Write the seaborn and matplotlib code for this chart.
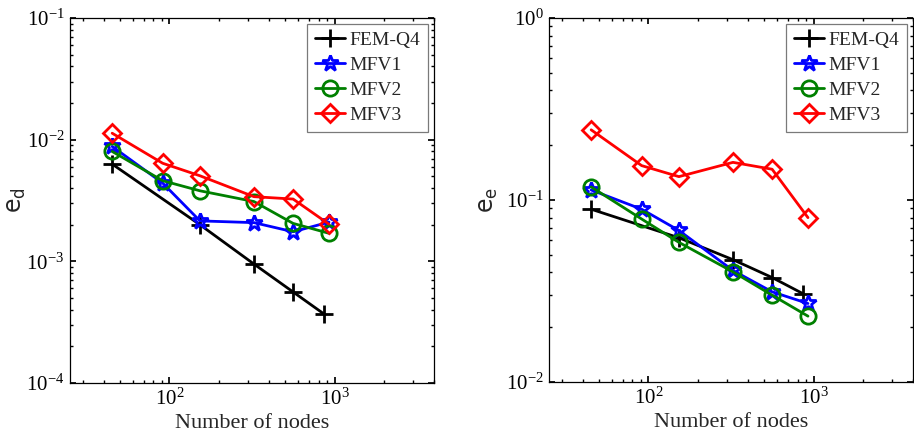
import numpy as np
import pandas as pd
import matplotlib
matplotlib.use("Agg")
import matplotlib.pyplot as plt
import seaborn as sns

# Node counts of the meshes
nodes_fem = [45, 153, 325, 561, 861]
nodes_mfv = [45, 91, 153, 325, 561, 925]

# Displacement error norm e_d
ed_fem = [6.3e-3, 2.0e-3, 9.5e-4, 5.6e-4, 3.7e-4]
ed_mfv1 = [8.8e-3, 4.4e-3, 2.15e-3, 2.08e-3, 1.75e-3, 2.1e-3]
ed_mfv2 = [8.0e-3, 4.6e-3, 3.8e-3, 3.1e-3, 2.05e-3, 1.7e-3]
ed_mfv3 = [1.13e-2, 6.4e-3, 5.05e-3, 3.4e-3, 3.25e-3, 2.02e-3]

# Energy error norm e_e
ee_fem = [0.089, 0.062, 0.047, 0.0375, 0.0306]
ee_mfv1 = [0.1135, 0.089, 0.068, 0.041, 0.0313, 0.027]
ee_mfv2 = [0.118, 0.0786, 0.0585, 0.0403, 0.030, 0.023]
ee_mfv3 = [0.243, 0.1545, 0.1344, 0.161, 0.1476, 0.080]

method_names = ["FEM-Q4", "MFV1", "MFV2", "MFV3"]
colors = ["black", "blue", "green", "red"]
markers = ["+", "*", "o", "D"]
msizes = [13, 12, 11, 9]

sns.set_theme(style="ticks")
plt.rcParams.update({
    "font.family": ["Liberation Serif"],
    "mathtext.fontset": "custom",
    "mathtext.rm": "Liberation Serif",
    "mathtext.sf": "DejaVu Sans",
    "xtick.direction": "in",
    "ytick.direction": "in",
    "xtick.top": True,
    "ytick.right": True,
    "xtick.major.size": 4,
    "ytick.major.size": 4,
    "xtick.minor.size": 2.5,
    "ytick.minor.size": 2.5,
    "xtick.major.pad": 4,
    "ytick.major.pad": 4,
    "axes.linewidth": 0.9,
    "axes.edgecolor": "black",
})


def draw_panel(ax, series, ylim, ylabel, ylabel_x):
    for name, xs, ys, c, m, ms in zip(method_names, *series, colors, markers, msizes):
        df = pd.DataFrame({"nodes": xs, "err": ys})
        sns.lineplot(data=df, x="nodes", y="err", ax=ax, color=c, marker=m,
                     markersize=ms, mfc="none", mec=c, mew=2, lw=2,
                     label=name, estimator=None, sort=False)
    ax.set_xscale("log")
    ax.set_yscale("log")
    ax.set_xlim(25, 4000)
    ax.set_ylim(*ylim)
    ax.set_xlabel("Number of nodes", fontsize=16, labelpad=3)
    ax.set_ylabel(ylabel, fontsize=17)
    ax.yaxis.set_label_coords(ylabel_x, 0.5)
    ax.tick_params(labelsize=15, colors="black")
    ax.tick_params(which="minor", colors="black")
    leg = ax.legend(loc="upper right", fontsize=14, frameon=True, fancybox=False,
                    handlelength=1.55, handletextpad=0.25, borderpad=0.4,
                    labelspacing=0.38, borderaxespad=0.3)
    leg.get_frame().set_edgecolor("0.35")
    leg.get_frame().set_linewidth(0.9)


fig = plt.figure(figsize=(9.14, 4.38), dpi=100)
ax1 = fig.add_axes([70 / 914, 55 / 438, 364 / 914, 365 / 438])
ax2 = fig.add_axes([549 / 914, 56 / 438, 364 / 914, 364 / 438])

draw_panel(ax1,
           ([nodes_fem, nodes_mfv, nodes_mfv, nodes_mfv],
            [ed_fem, ed_mfv1, ed_mfv2, ed_mfv3]),
           (1e-4, 1e-1), r"$\mathsf{e_d}$", -0.115)
draw_panel(ax2,
           ([nodes_fem, nodes_mfv, nodes_mfv, nodes_mfv],
            [ee_fem, ee_mfv1, ee_mfv2, ee_mfv3]),
           (1e-2, 1e0), r"$\mathsf{e_e}$", -0.135)

fig.savefig("out.png", dpi=100)
